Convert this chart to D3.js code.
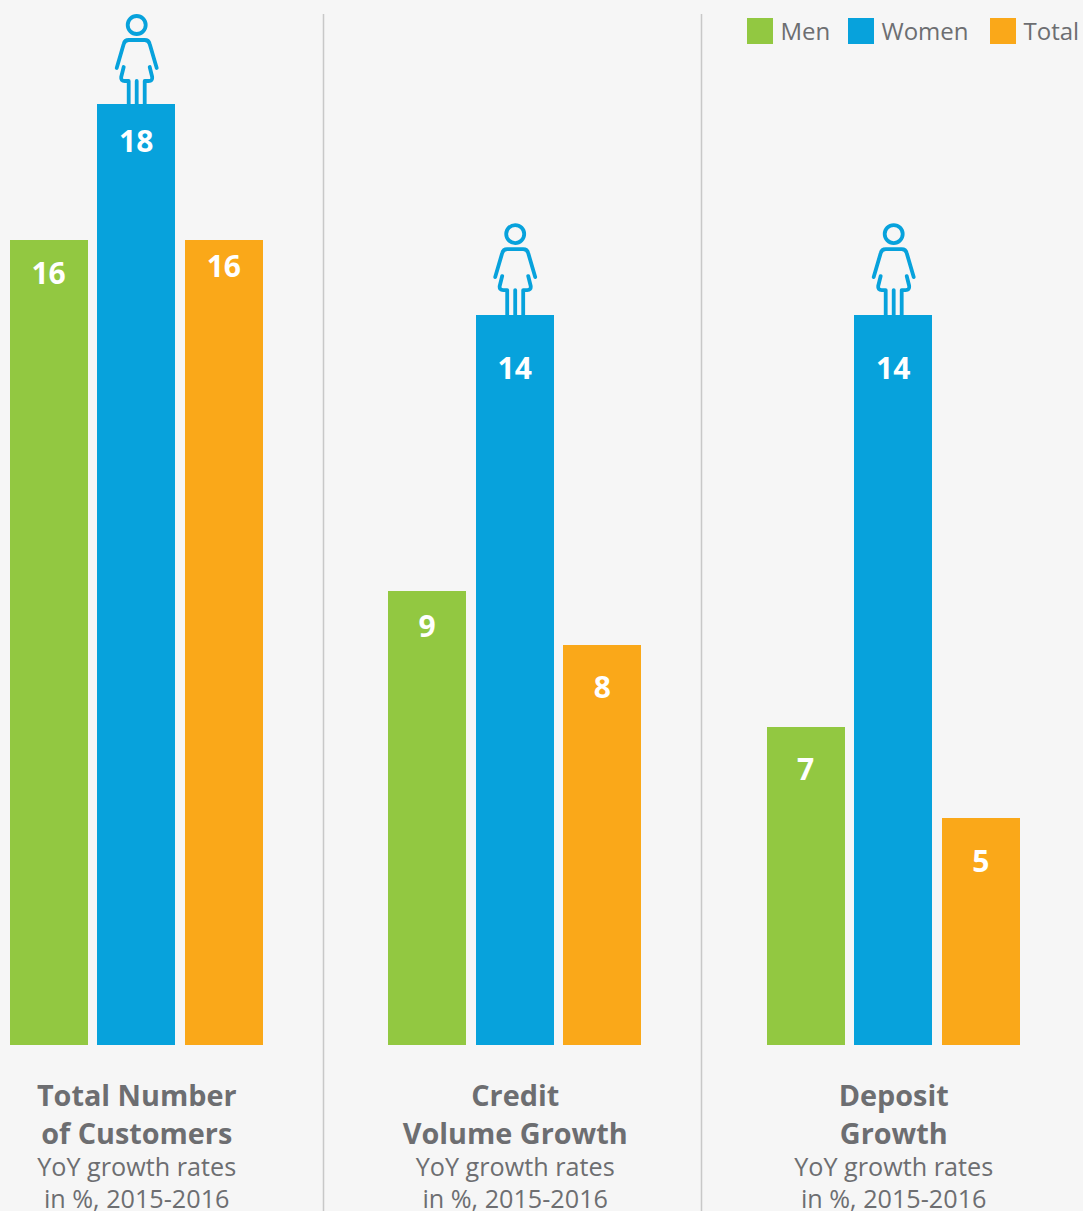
<!DOCTYPE html>
<html>
<head>
<meta charset="utf-8">
<script src="https://cdn.jsdelivr.net/npm/d3@7/dist/d3.min.js"></script>
<style>
html,body{margin:0;padding:0;background:#f6f6f6;overflow:hidden}
svg{display:block}
text{font-family:"Open Sans",sans-serif}
</style>
</head>
<body>
<script>
const categories = ["Total Number of Customers", "Credit Volume Growth", "Deposit Growth"];
const titleLines = [["Total Number", "of Customers"], ["Credit", "Volume Growth"], ["Deposit", "Growth"]];
const subtitleLines = ["YoY growth rates", "in %, 2015-2016"];
const seriesNames = ["Men", "Women", "Total"];
const seriesColors = ["#92c841", "#07a2dc", "#faa819"];

// Printed labels
const menLabels = [16, 9, 7];
const womenLabels = [18, 14, 14];
const totalLabels = [16, 8, 5];

// Bar lengths (the original is not drawn strictly in proportion to its rounded labels)
const menBars = [15.48, 8.73, 6.12];
const womenBars = [18.1, 14.04, 14.04];
const totalBars = [15.48, 7.69, 4.37];

const labelDrop = [[33, 37, 26], [35, 53, 42], [42.5, 53, 43]];
const iconLift = [0, 2, 2];

const W = 1083, H = 1211, baseY = 1045, topY = 104;
const svg = d3.select("body").append("svg").attr("width", W).attr("height", H);
svg.append("rect").attr("width", W).attr("height", H).attr("fill", "#f6f6f6");

const y = d3.scaleLinear().domain([0, d3.max(womenBars)]).range([baseY, topY]);
const xGroup = d3.scalePoint().domain(categories).range([136.2, 893.2]);
const xBar = d3.scaleBand().domain(seriesNames).range([-126.6, 126.6]).paddingInner(0.1096);

const barSeries = [menBars, womenBars, totalBars];
const labelSeries = [menLabels, womenLabels, totalLabels];
const rows = [];
categories.forEach((c, i) => seriesNames.forEach((s, j) => rows.push({
  c, s, i, j, bar: barSeries[j][i], label: labelSeries[j][i], color: seriesColors[j], drop: labelDrop[i][j]
})));

// Separators
svg.selectAll("line.sep").data([323.5, 701.5]).join("line").attr("class", "sep")
  .attr("x1", d => d).attr("x2", d => d).attr("y1", 14).attr("y2", H)
  .attr("stroke", "#c8c8c8").attr("stroke-width", 1.5);

// Bars
svg.selectAll("rect.bar").data(rows).join("rect").attr("class", "bar")
  .attr("x", d => xGroup(d.c) + xBar(d.s))
  .attr("y", d => y(d.bar))
  .attr("width", xBar.bandwidth())
  .attr("height", d => baseY - y(d.bar))
  .attr("fill", d => d.color)
  .attr("shape-rendering", "crispEdges");

// Value labels
svg.selectAll("text.val").data(rows).join("text").attr("class", "val")
  .attr("x", d => xGroup(d.c) + xBar(d.s) + xBar.bandwidth() / 2)
  .attr("y", d => y(d.bar) + d.drop + 11)
  .attr("text-anchor", "middle")
  .attr("font-size", 30).attr("font-weight", 700).attr("fill", "#fff")
  .text(d => d.label);

// Woman icons above the Women bars
const icon = svg.selectAll("g.icon").data(rows.filter(d => d.s === "Women")).join("g").attr("class", "icon")
  .attr("transform", d => `translate(${xGroup(d.c) + xBar(d.s) + xBar.bandwidth() / 2 + 0.5},${y(d.bar) - iconLift[d.i]})`)
  .attr("fill", "none").attr("stroke", "#07a2dc").attr("stroke-width", 3.8).attr("stroke-linecap", "round").attr("stroke-linejoin", "round");
icon.append("circle").attr("cx", 0).attr("cy", -79).attr("r", 9);
icon.append("path").attr("d", "M-20,-36 L-13,-60 Q-12,-64 -8,-64 L8,-64 Q12,-64 13,-60 L20,-36");
icon.append("path").attr("d", "M-13,-37 L-15.5,-27 Q-16,-23 -12,-23 L-8,-23 L-8,2 M0,-23 L0,2 M8,2 L8,-23 L12,-23 Q16,-23 15.5,-27 L13,-37");

// Group captions
const caps = svg.selectAll("g.cap").data(categories).join("g").attr("class", "cap")
  .attr("transform", d => `translate(${xGroup(d) + 0.5},0)`)
  .attr("text-anchor", "middle").attr("fill", "#6d6e71");
caps.each(function (c, i) {
  const g = d3.select(this);
  titleLines[i].forEach((t, k) => g.append("text").attr("y", 1106 + k * 38)
    .attr("font-size", 28.8).attr("font-weight", 700).text(t));
  subtitleLines.forEach((t, k) => g.append("text").attr("y", 1176 + k * 32)
    .attr("font-size", 25.2).text(t));
});

// Legend
const legendX = d3.scaleOrdinal().domain(seriesNames).range([747, 848, 990]);
const lg = svg.selectAll("g.lg").data(seriesNames).join("g").attr("class", "lg")
  .attr("transform", d => `translate(${legendX(d)},18)`);
lg.append("rect").attr("width", 26).attr("height", 26).attr("fill", (d, i) => seriesColors[i]);
lg.append("text").attr("x", 33.5).attr("y", 21.5).attr("font-size", 24).attr("fill", "#6d6e71").text(d => d);
</script>
</body>
</html>
